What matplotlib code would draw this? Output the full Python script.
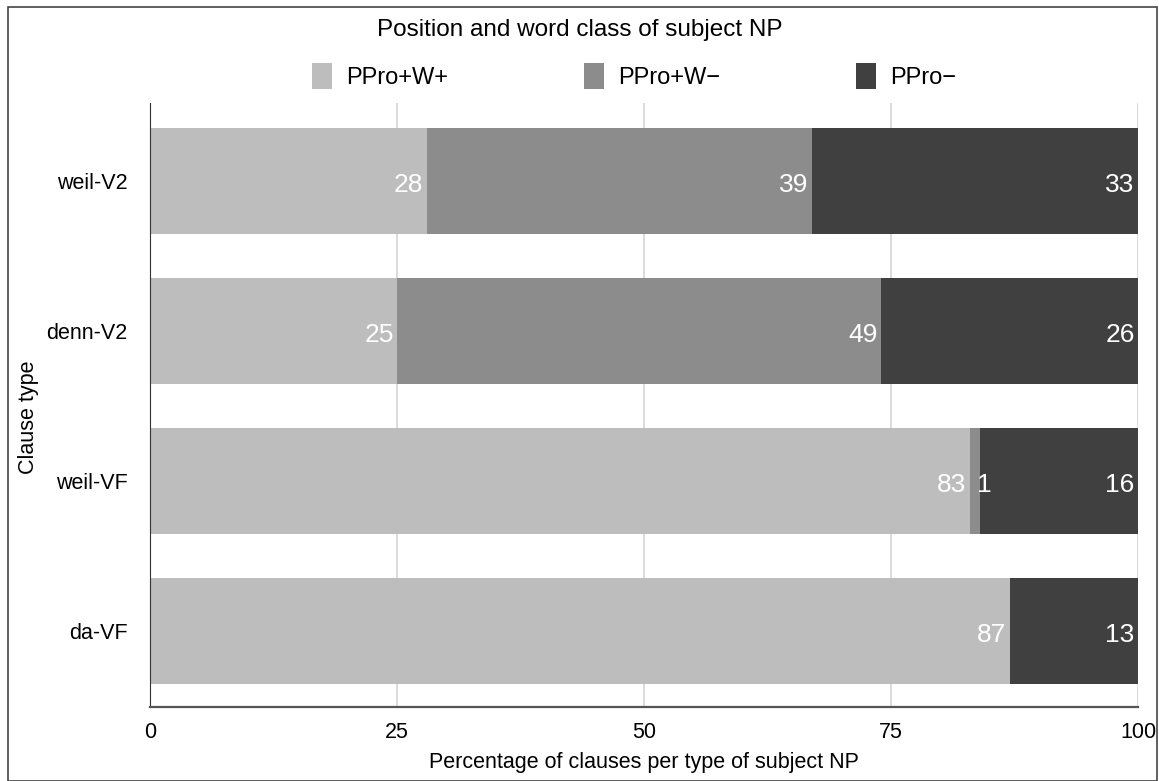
import numpy as np
import matplotlib.pyplot as plt
from matplotlib.patches import Patch, Rectangle

plt.rcParams['font.family'] = ['Liberation Sans', 'DejaVu Sans']

# Data
clause_types = ['weil-V2', 'denn-V2', 'weil-VF', 'da-VF']
series_names = ['PPro+W+', 'PPro+W\u2212', 'PPro\u2212']
ppro_w_plus = [28, 25, 83, 87]
ppro_w_minus = [39, 49, 1, 0]
ppro_minus = [33, 26, 16, 13]
colors = ['#bdbdbd', '#8c8c8c', '#404040']

fig = plt.figure(figsize=(11.59, 7.81), dpi=100)
ax = fig.add_axes([0.1294, 0.0948, 0.8525, 0.7734])

y = np.arange(len(clause_types))
left = np.zeros(len(clause_types))
for vals, col in zip([ppro_w_plus, ppro_w_minus, ppro_minus], colors):
    vals = np.array(vals, dtype=float)
    ax.barh(y, vals, left=left, height=0.707, color=col, zorder=2)
    for yi, (l, v) in enumerate(zip(left, vals)):
        if v <= 0:
            continue
        end = l + v
        if v < 3:
            ax.text(end - 0.3, yi + 0.03, f'{int(v)}', ha='left', va='center',
                    color='white', fontsize=19, zorder=3)
        else:
            ax.text(end - 0.35, yi + 0.03, f'{int(v)}', ha='right', va='center',
                    color='white', fontsize=19, zorder=3)
    left = left + vals

ax.set_xlim(0, 100)
ax.set_ylim(3.507, -0.52)
ax.set_yticks(y)
ax.set_yticklabels(clause_types, fontsize=15.5)
ax.set_xticks([0, 25, 50, 75, 100])
ax.set_xticklabels(['0', '25', '50', '75', '100'], fontsize=15.5)
ax.tick_params(axis='y', length=0, pad=16)
ax.tick_params(axis='x', length=0, pad=11)
ax.grid(axis='x', color='#d4d4d4', linewidth=1.2, zorder=0)
for s in ['top', 'right']:
    ax.spines[s].set_visible(False)
ax.spines['left'].set_color('#333333')
ax.spines['bottom'].set_color('#555555')
ax.spines['bottom'].set_linewidth(1.6)
ax.set_xlabel('Percentage of clauses per type of subject NP', fontsize=15.5)
ax.xaxis.set_label_coords(0.5, -0.074)
ax.set_ylabel('Clause type', fontsize=15.5)
ax.yaxis.set_label_coords(-0.112, 0.48)

fig.text(0.5, 0.962, 'Position and word class of subject NP', ha='center', va='center', fontsize=17.5)
handles = [Patch(facecolor=c, edgecolor='none') for c in colors]
fig.legend(handles, series_names, loc='center', bbox_to_anchor=(0.547, 0.903), ncol=3,
           frameon=False, fontsize=17, handlelength=0.85, handleheight=1.3,
           columnspacing=5.75, handletextpad=0.6)

fig.patches.append(Rectangle((0.007, 0.0), 0.991, 0.991, transform=fig.transFigure,
                             fill=False, edgecolor='#444444', linewidth=1.2))

fig.savefig('out.png', dpi=100)
